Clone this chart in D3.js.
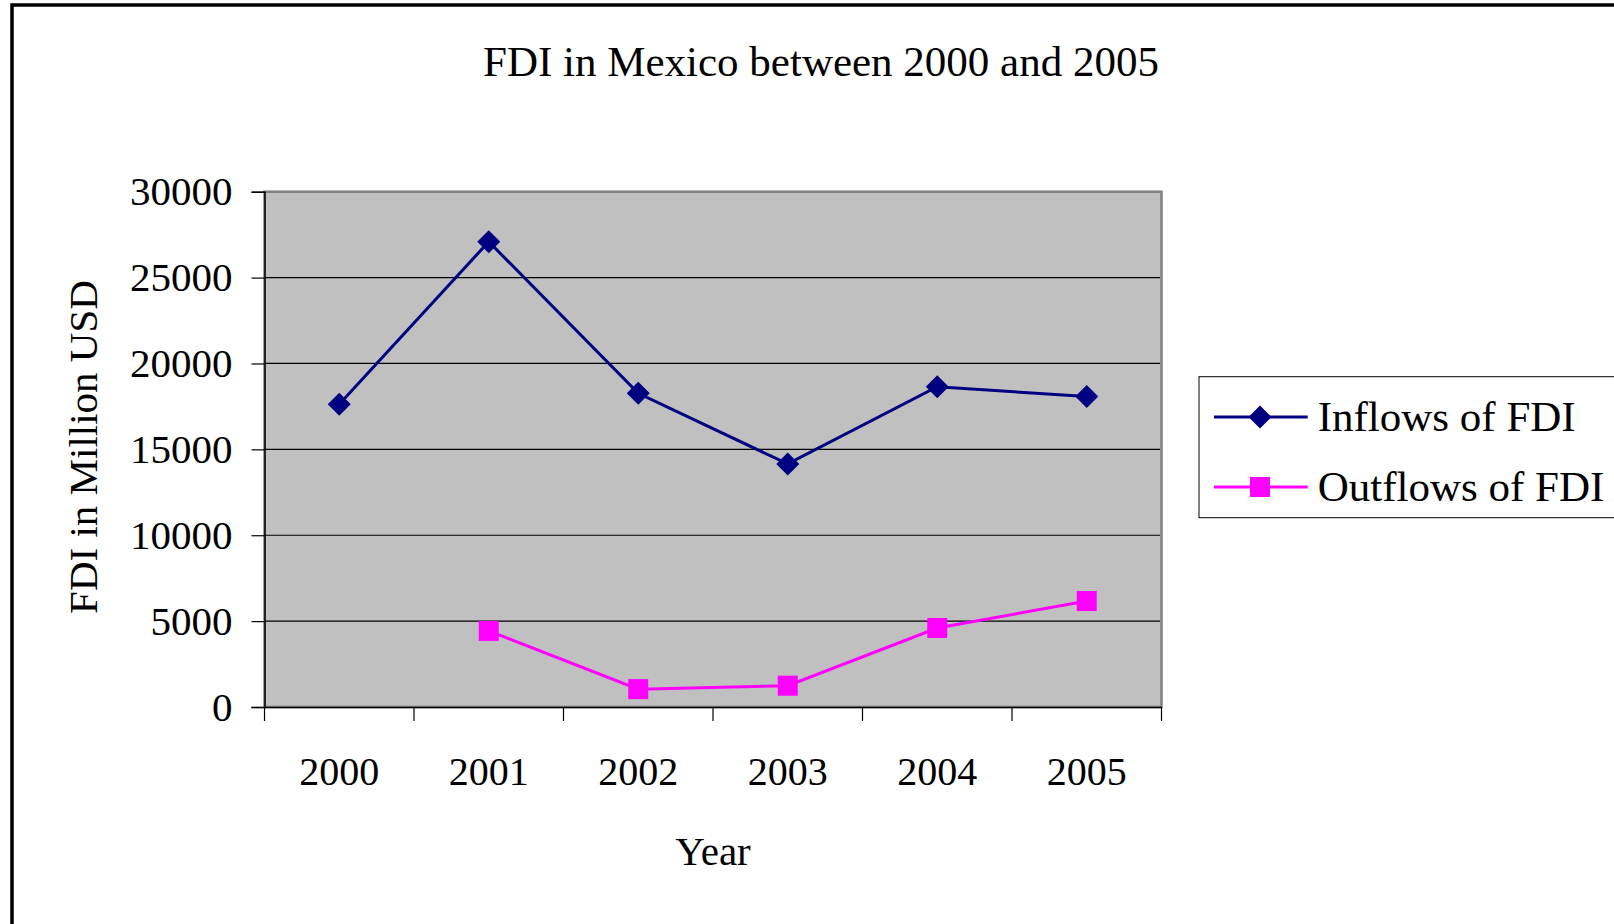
<!DOCTYPE html>
<html>
<head>
<meta charset="utf-8">
<script src="https://cdn.jsdelivr.net/npm/d3@7"></script>
<style>
  html, body { margin: 0; padding: 0; background: #fff; overflow: hidden; }
  svg { display: block; font-family: "Liberation Serif", "Times New Roman", serif; }
</style>
</head>
<body>
<svg id="chart" width="1614" height="924"></svg>
<script>
const years = ["2000", "2001", "2002", "2003", "2004", "2005"];
const inflows = [17620, 27090, 18260, 14150, 18650, 18070];
const outflows = [null, 4430, 1040, 1240, 4600, 6170];
const yTicks = [0, 5000, 10000, 15000, 20000, 25000, 30000];
const seriesNames = ["Inflows of FDI", "Outflows of FDI"];
const titleText = "FDI in Mexico between 2000 and 2005";
const xTitle = "Year";
const yTitle = "FDI in Million USD";

const svg = d3.select("#chart");
const plot = { left: 264.5, right: 1161.5, top: 191.7, bottom: 707 };

// outer border
svg.append("rect").attr("x", 12).attr("y", 5).attr("width", 1700).attr("height", 1000)
  .attr("fill", "none").attr("stroke", "#000").attr("stroke-width", 3.5);

const x = d3.scaleBand().domain(years).range([plot.left, plot.right]).padding(0);
const y = d3.scaleLinear().domain([0, 30000]).range([plot.bottom, plot.top]);

// plot background
svg.append("rect").attr("x", plot.left).attr("y", plot.top)
  .attr("width", plot.right - plot.left).attr("height", plot.bottom - plot.top)
  .attr("fill", "#c0c0c0").attr("stroke", "#808080").attr("stroke-width", 2.5);

// gridlines
svg.append("g").selectAll("line").data(yTicks.filter(d => d > 0 && d < 30000)).join("line")
  .attr("x1", plot.left).attr("x2", plot.right - 1.5)
  .attr("y1", d => y(d)).attr("y2", d => y(d))
  .attr("stroke", "#000").attr("stroke-width", 1.2);

// y axis
const yAxis = d3.axisLeft(y).tickValues(yTicks).tickSize(13).tickPadding(19).tickFormat(d3.format("d"));
const gy = svg.append("g").attr("transform", `translate(${plot.left},0)`).call(yAxis);
gy.select(".domain").attr("stroke", "#000").attr("stroke-width", 1.5);
gy.selectAll(".tick line").attr("stroke", "#000").attr("stroke-width", 1.2);
gy.selectAll(".tick text").attr("font-size", 41).attr("font-family", "Liberation Serif, Times New Roman, serif")
  .attr("fill", "#000").attr("dy", "0.32em");

// x axis (ticks at band boundaries)
const xAxis = d3.axisBottom(x).tickSize(0).tickPadding(0).tickFormat(d => d);
const gx = svg.append("g").attr("transform", `translate(0,${plot.bottom})`).call(xAxis);
gx.select(".domain").attr("stroke", "#000").attr("stroke-width", 1.5);
gx.selectAll(".tick text").attr("font-size", 40).attr("font-family", "Liberation Serif, Times New Roman, serif")
  .attr("fill", "#000").attr("y", 78).attr("dy", 0);
const bounds = years.map(d => x(d)).concat([x(years[years.length - 1]) + x.bandwidth()]);
svg.append("g").selectAll("line").data(bounds).join("line")
  .attr("x1", d => d).attr("x2", d => d)
  .attr("y1", plot.bottom).attr("y2", plot.bottom + 14)
  .attr("stroke", "#000").attr("stroke-width", 1.2);

const cx = d => x(d) + x.bandwidth() / 2;

// lines
const line = d3.line().defined(d => d.v != null).x(d => cx(d.year)).y(d => y(d.v));
const inData = years.map((yr, i) => ({ year: yr, v: inflows[i] }));
const outData = years.map((yr, i) => ({ year: yr, v: outflows[i] }));

svg.append("path").datum(inData).attr("d", line).attr("fill", "none")
  .attr("stroke", "#000080").attr("stroke-width", 3);
svg.append("path").datum(outData).attr("d", line).attr("fill", "none")
  .attr("stroke", "#ff00ff").attr("stroke-width", 3);

const diamond = (px, py, r) => `M${px},${py - r}L${px + r},${py}L${px},${py + r}L${px - r},${py}Z`;

svg.append("g").selectAll("path").data(inData.filter(d => d.v != null)).join("path")
  .attr("d", d => diamond(cx(d.year), y(d.v), 11.5)).attr("fill", "#000080");
svg.append("g").selectAll("rect").data(outData.filter(d => d.v != null)).join("rect")
  .attr("x", d => cx(d.year) - 10).attr("y", d => y(d.v) - 10)
  .attr("width", 20).attr("height", 20).attr("fill", "#ff00ff");

// title
svg.append("text").attr("x", 821).attr("y", 76).attr("text-anchor", "middle")
  .attr("font-size", 43).attr("fill", "#000").text(titleText);

// axis titles
svg.append("text").attr("x", (plot.left + plot.right) / 2).attr("y", 865).attr("text-anchor", "middle")
  .attr("font-size", 41).attr("fill", "#000").text(xTitle);
svg.append("text").attr("transform", "translate(96.5,447) rotate(-90)").attr("text-anchor", "middle")
  .attr("font-size", 41).attr("fill", "#000").text(yTitle);

// legend
const lg = svg.append("g");
lg.append("rect").attr("x", 1199).attr("y", 376.7).attr("width", 500).attr("height", 141)
  .attr("fill", "#fff").attr("stroke", "#000").attr("stroke-width", 1);
const legendRows = [
  { name: seriesNames[0], color: "#000080", shape: "diamond", y: 417 },
  { name: seriesNames[1], color: "#ff00ff", shape: "square", y: 487 }
];
legendRows.forEach(r => {
  lg.append("line").attr("x1", 1214).attr("x2", 1307.7).attr("y1", r.y).attr("y2", r.y)
    .attr("stroke", r.color).attr("stroke-width", 3);
  if (r.shape === "diamond") {
    lg.append("path").attr("d", diamond(1260, r.y, 11.5)).attr("fill", r.color);
  } else {
    lg.append("rect").attr("x", 1250).attr("y", r.y - 10).attr("width", 20).attr("height", 20).attr("fill", r.color);
  }
  lg.append("text").attr("x", 1317.7).attr("y", r.y + 13.5).attr("font-size", 43).attr("fill", "#000").text(r.name);
});
</script>
</body>
</html>
